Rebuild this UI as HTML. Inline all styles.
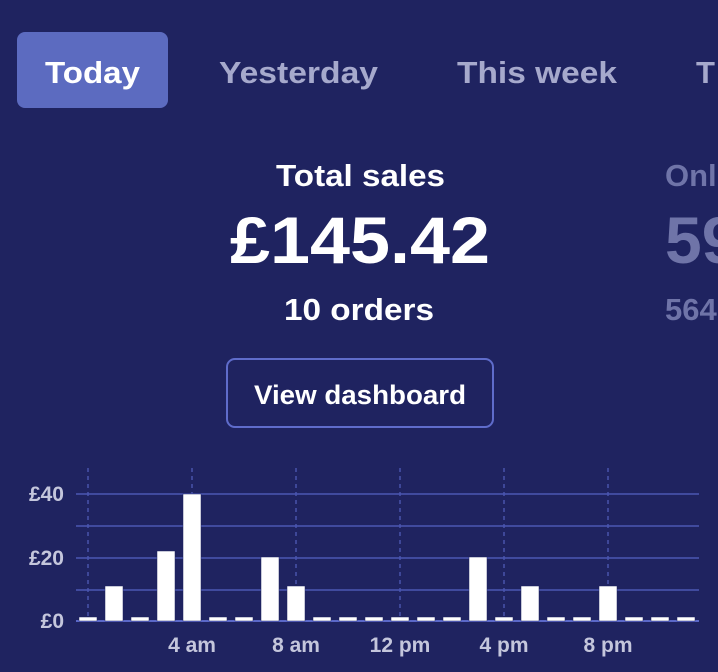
<!DOCTYPE html>
<html><head><style>html,body{margin:0;padding:0;background:#1f2360;}svg{display:block}</style></head>
<body>
<svg width="718" height="672" xmlns="http://www.w3.org/2000/svg" font-family="Liberation Sans, sans-serif">
<rect width="718" height="672" fill="#1f2360"/>
<rect x="17" y="32" width="151" height="76" rx="8" fill="#5c6bc0"/>
<text x="45" y="83" font-size="31" font-weight="bold" fill="#fff" textLength="95" lengthAdjust="spacingAndGlyphs">Today</text>
<text x="219" y="83" font-size="31" font-weight="bold" fill="#a6a9cc" textLength="159" lengthAdjust="spacingAndGlyphs">Yesterday</text>
<text x="457" y="83" font-size="31" font-weight="bold" fill="#a6a9cc" textLength="160" lengthAdjust="spacingAndGlyphs">This week</text>
<text x="696" y="83" font-size="31" font-weight="bold" fill="#a6a9cc">T</text>
<text x="276" y="186" font-size="31" font-weight="bold" fill="#fff" textLength="169" lengthAdjust="spacingAndGlyphs">Total sales</text>
<text x="230" y="263" font-size="66" font-weight="bold" fill="#fff" textLength="260" lengthAdjust="spacingAndGlyphs">£145.42</text>
<text x="284" y="320" font-size="31" font-weight="bold" fill="#fff" textLength="150" lengthAdjust="spacingAndGlyphs">10 orders</text>
<text x="665" y="186" font-size="31" font-weight="bold" fill="#6f74a8">Onl</text>
<text x="665" y="263" font-size="66" font-weight="bold" fill="#6f74a8">59</text>
<text x="665" y="320" font-size="31" font-weight="bold" fill="#6f74a8">564</text>
<rect x="227" y="359" width="266" height="68" rx="8" fill="none" stroke="#5f6ccb" stroke-width="2"/>
<text x="254" y="404" font-size="27" font-weight="bold" fill="#fff" textLength="212" lengthAdjust="spacingAndGlyphs">View dashboard</text>
<g stroke="#5c6bd0" stroke-width="1" stroke-dasharray="4,4">
<line x1="88" y1="468" x2="88" y2="621"/><line x1="192" y1="468" x2="192" y2="621"/><line x1="296" y1="468" x2="296" y2="621"/><line x1="400" y1="468" x2="400" y2="621"/><line x1="504" y1="468" x2="504" y2="621"/><line x1="608" y1="468" x2="608" y2="621"/>
</g>
<g stroke="#4b57b3" stroke-width="1.5">
<line x1="76" y1="494" x2="699" y2="494"/><line x1="76" y1="526" x2="699" y2="526"/><line x1="76" y1="558" x2="699" y2="558"/><line x1="76" y1="590" x2="699" y2="590"/>
</g>
<line x1="76" y1="621" x2="699" y2="621" stroke="#5b68c8" stroke-width="2"/>
<g fill="#fff" stroke="#1f2360" stroke-width="0.5">
<rect x="79" y="617" width="18" height="4"/>
<rect x="105" y="586" width="18" height="35"/>
<rect x="131" y="617" width="18" height="4"/>
<rect x="157" y="551" width="18" height="70"/>
<rect x="183" y="494" width="18" height="127"/>
<rect x="209" y="617" width="18" height="4"/>
<rect x="235" y="617" width="18" height="4"/>
<rect x="261" y="557" width="18" height="64"/>
<rect x="287" y="586" width="18" height="35"/>
<rect x="313" y="617" width="18" height="4"/>
<rect x="339" y="617" width="18" height="4"/>
<rect x="365" y="617" width="18" height="4"/>
<rect x="391" y="617" width="18" height="4"/>
<rect x="417" y="617" width="18" height="4"/>
<rect x="443" y="617" width="18" height="4"/>
<rect x="469" y="557" width="18" height="64"/>
<rect x="495" y="617" width="18" height="4"/>
<rect x="521" y="586" width="18" height="35"/>
<rect x="547" y="617" width="18" height="4"/>
<rect x="573" y="617" width="18" height="4"/>
<rect x="599" y="586" width="18" height="35"/>
<rect x="625" y="617" width="18" height="4"/>
<rect x="651" y="617" width="18" height="4"/>
<rect x="677" y="617" width="18" height="4"/>
</g>
<g font-size="21" font-weight="bold" fill="#c4c6dc" text-anchor="end">
<text x="64" y="501">£40</text><text x="64" y="565">£20</text><text x="64" y="628">£0</text>
</g>
<g font-size="21" font-weight="bold" fill="#c4c6dc" text-anchor="middle">
<text x="192" y="652">4 am</text><text x="296" y="652">8 am</text><text x="400" y="652">12 pm</text><text x="504" y="652">4 pm</text><text x="608" y="652">8 pm</text>
</g>
</svg>
</body></html>
